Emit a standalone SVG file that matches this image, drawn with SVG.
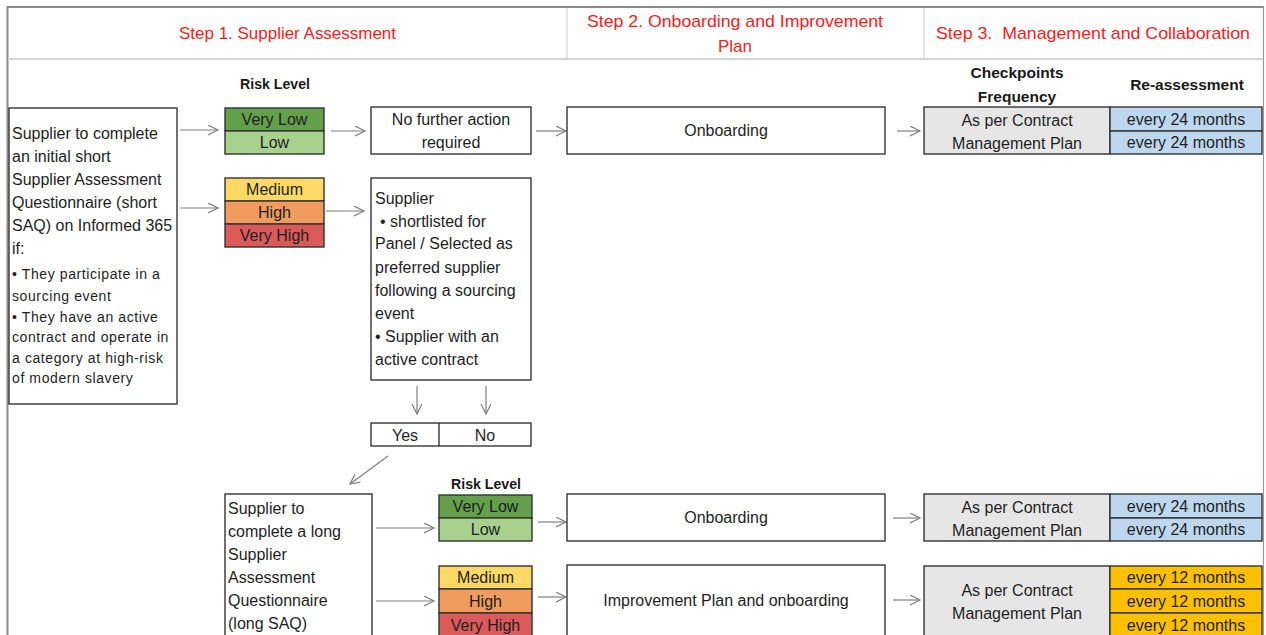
<svg xmlns="http://www.w3.org/2000/svg" width="1266" height="635" viewBox="0 0 1266 635">
<style>
.t{font-family:"Liberation Sans",Arial,sans-serif;font-size:16px;fill:#1e1e1e}
.s{font-family:"Liberation Sans",Arial,sans-serif;font-size:14px;fill:#1e1e1e;letter-spacing:0.6px}
.c{text-anchor:middle}
.h{font-family:"Liberation Sans",Arial,sans-serif;font-size:17px;fill:#ff1a1a;text-anchor:middle}
.b{font-family:"Liberation Sans",Arial,sans-serif;font-size:15.5px;font-weight:bold;fill:#1a1a1a;text-anchor:middle}
.box{fill:#fff;stroke:#262626;stroke-width:1.3}
.cell{stroke:#333;stroke-width:1.4}
.vl{fill:#64a04b}.lo{fill:#a9d18e}.me{fill:#ffd966}.hi{fill:#f09c5f}.vh{fill:#db5b5b}
.gr{fill:#e7e6e6}.bl{fill:#bdd7ee}.or{fill:#ffc000}
.ar{stroke:#7f7f7f;stroke-width:1.2;fill:none;marker-end:url(#ah)}
</style>
<defs>
<marker id="ah" markerWidth="12" markerHeight="12" refX="10" refY="5" orient="auto" markerUnits="userSpaceOnUse">
<path d="M0,0 L10,5 L0,10" fill="none" stroke="#7f7f7f" stroke-width="1.2"/>
</marker>
</defs>
<rect width="1266" height="635" fill="#fff"/>
<g id="frame">
<line x1="7" y1="7" x2="1264" y2="7" stroke="#8a8a8a" stroke-width="2"/>
<line x1="7.5" y1="6" x2="7.5" y2="635" stroke="#8a8a8a" stroke-width="2"/>
<line x1="1263.5" y1="6" x2="1263.5" y2="635" stroke="#9a9a9a" stroke-width="1.2"/>
<line x1="8" y1="59" x2="1263" y2="59" stroke="#d4d4d4" stroke-width="2"/>
<line x1="567" y1="8" x2="567" y2="59" stroke="#d4d4d4" stroke-width="1.2"/>
<line x1="924" y1="8" x2="924" y2="59" stroke="#d4d4d4" stroke-width="1.2"/>
<text class="h" x="287.5" y="39" textLength="217" lengthAdjust="spacingAndGlyphs">Step 1. Supplier Assessment</text>
<text class="h" x="735" y="27" textLength="296" lengthAdjust="spacingAndGlyphs">Step 2. Onboarding and Improvement</text>
<text class="h" x="735" y="52">Plan</text>
<text class="h" x="1093" y="39" textLength="314" lengthAdjust="spacingAndGlyphs">Step 3.&#160; Management and Collaboration</text>
<text class="b" x="275" y="89" textLength="70" lengthAdjust="spacingAndGlyphs">Risk Level</text>
<text class="b" x="1017" y="78">Checkpoints</text>
<text class="b" x="1017" y="102">Frequency</text>
<text class="b" x="1187" y="90">Re-assessment</text>
<text class="b" x="486" y="489" textLength="70" lengthAdjust="spacingAndGlyphs">Risk Level</text>
</g>
<g id="connectors">
<line class="ar" x1="180" y1="130" x2="218" y2="130"/>
<line class="ar" x1="180" y1="208" x2="218" y2="208"/>
<line class="ar" x1="331" y1="131" x2="365" y2="131"/>
<line class="ar" x1="326" y1="211" x2="364" y2="211"/>
<line class="ar" x1="536" y1="131" x2="566" y2="131"/>
<line class="ar" x1="897" y1="131" x2="920" y2="131"/>
<line class="ar" x1="417" y1="386" x2="417" y2="414"/>
<line class="ar" x1="486" y1="386" x2="486" y2="414"/>
<line class="ar" x1="388" y1="456" x2="350" y2="484"/>
<line class="ar" x1="376" y1="528" x2="434" y2="528"/>
<line class="ar" x1="376" y1="601" x2="434" y2="601"/>
<line class="ar" x1="538" y1="522" x2="566" y2="522"/>
<line class="ar" x1="538" y1="597" x2="566" y2="597"/>
<line class="ar" x1="893" y1="518" x2="920" y2="518"/>
<line class="ar" x1="893" y1="600" x2="920" y2="600"/>
</g>
<g id="short-saq">
<rect class="box" x="9" y="108" width="168" height="296"/>
<text class="t" x="12" y="139">Supplier to complete</text>
<text class="t" x="12" y="162">an initial short</text>
<text class="t" x="12" y="185">Supplier Assessment</text>
<text class="t" x="12" y="208">Questionnaire (short</text>
<text class="t" x="12" y="231">SAQ) on Informed 365</text>
<text class="t" x="12" y="254">if:</text>
<text class="s" x="12" y="279">• They participate in a</text>
<text class="s" x="12" y="301">sourcing event</text>
<text class="s" x="12" y="322">• They have an active</text>
<text class="s" x="12" y="342">contract and operate in</text>
<text class="s" x="12" y="363">a category at high-risk</text>
<text class="s" x="12" y="383">of modern slavery</text>
</g>
<g id="risk-1">
<rect class="cell vl" x="225" y="108" width="99" height="23"/>
<rect class="cell lo" x="225" y="131" width="99" height="23"/>
<text class="t c" x="274.5" y="125">Very Low</text>
<text class="t c" x="274.5" y="148">Low</text>
</g>
<g id="risk-2">
<rect class="cell me" x="225" y="178" width="99" height="23"/>
<rect class="cell hi" x="225" y="201" width="99" height="23"/>
<rect class="cell vh" x="225" y="224" width="99" height="23"/>
<text class="t c" x="274.5" y="195">Medium</text>
<text class="t c" x="274.5" y="218">High</text>
<text class="t c" x="274.5" y="241">Very High</text>
</g>
<g id="no-further-action">
<rect class="box" x="371" y="107" width="160" height="47"/>
<text class="t c" x="451" y="125">No further action</text>
<text class="t c" x="451" y="148">required</text>
</g>
<g id="supplier-shortlisted">
<rect class="box" x="371" y="178" width="160" height="202"/>
<text class="t" x="375" y="204">Supplier</text>
<text class="t" x="380" y="227">• shortlisted for</text>
<text class="t" x="375" y="249">Panel / Selected as</text>
<text class="t" x="375" y="273">preferred supplier</text>
<text class="t" x="375" y="296">following a sourcing</text>
<text class="t" x="375" y="319">event</text>
<text class="t" x="375" y="342">• Supplier with an</text>
<text class="t" x="375" y="365">active contract</text>
</g>
<g id="yes-no">
<rect class="box" x="371" y="423" width="160" height="23"/>
<line x1="439" y1="423" x2="439" y2="446" stroke="#262626" stroke-width="1.3"/>
<text class="t c" x="405" y="441">Yes</text>
<text class="t c" x="485" y="441">No</text>
</g>
<g id="onboarding-1">
<rect class="box" x="567" y="107" width="318" height="47"/>
<text class="t c" x="726" y="136">Onboarding</text>
</g>
<g id="checkpoint-1">
<rect class="cell gr" x="924" y="107" width="186" height="47"/>
<rect class="cell bl" x="1110" y="107" width="152" height="24"/>
<rect class="cell bl" x="1110" y="131" width="152" height="23"/>
<text class="t c" x="1017" y="126">As per Contract</text>
<text class="t c" x="1017" y="149">Management Plan</text>
<text class="t c" x="1186" y="125">every 24 months</text>
<text class="t c" x="1186" y="148">every 24 months</text>
</g>
<g id="long-saq">
<rect class="box" x="225" y="494" width="147" height="150"/>
<text class="t" x="228" y="514">Supplier to</text>
<text class="t" x="228" y="537">complete a long</text>
<text class="t" x="228" y="560">Supplier</text>
<text class="t" x="228" y="583">Assessment</text>
<text class="t" x="228" y="606">Questionnaire</text>
<text class="t" x="228" y="629">(long SAQ)</text>
</g>
<g id="risk-3">
<rect class="cell vl" x="439" y="495" width="93" height="23"/>
<rect class="cell lo" x="439" y="518" width="93" height="23"/>
<text class="t c" x="485.5" y="512">Very Low</text>
<text class="t c" x="485.5" y="535">Low</text>
</g>
<g id="risk-4">
<rect class="cell me" x="439" y="566" width="93" height="23"/>
<rect class="cell hi" x="439" y="589" width="93" height="24"/>
<rect class="cell vh" x="439" y="613" width="93" height="30"/>
<text class="t c" x="485.5" y="583">Medium</text>
<text class="t c" x="485.5" y="607">High</text>
<text class="t c" x="485.5" y="631">Very High</text>
</g>
<g id="onboarding-2">
<rect class="box" x="567" y="494" width="318" height="47"/>
<text class="t c" x="726" y="523">Onboarding</text>
</g>
<g id="improvement-plan">
<rect class="box" x="567" y="565" width="318" height="80"/>
<text class="t c" x="726" y="606">Improvement Plan and onboarding</text>
</g>
<g id="checkpoint-2">
<rect class="cell gr" x="924" y="494" width="186" height="47"/>
<rect class="cell bl" x="1110" y="494" width="152" height="24"/>
<rect class="cell bl" x="1110" y="518" width="152" height="23"/>
<text class="t c" x="1017" y="513">As per Contract</text>
<text class="t c" x="1017" y="536">Management Plan</text>
<text class="t c" x="1186" y="512">every 24 months</text>
<text class="t c" x="1186" y="535">every 24 months</text>
</g>
<g id="checkpoint-3">
<rect class="cell gr" x="924" y="566" width="186" height="80"/>
<rect class="cell or" x="1110" y="566" width="152" height="23"/>
<rect class="cell or" x="1110" y="589" width="152" height="24"/>
<rect class="cell or" x="1110" y="613" width="152" height="30"/>
<text class="t c" x="1017" y="596">As per Contract</text>
<text class="t c" x="1017" y="619">Management Plan</text>
<text class="t c" x="1186" y="583">every 12 months</text>
<text class="t c" x="1186" y="607">every 12 months</text>
<text class="t c" x="1186" y="631">every 12 months</text>
</g>
</svg>
